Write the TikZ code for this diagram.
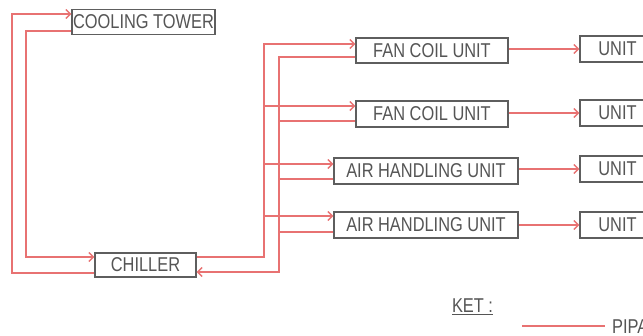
\documentclass[tikz,border=0pt]{standalone}
\usepackage{fontspec}
\setmainfont{Liberation Sans}
\newfontfamily\narrowfont[FakeStretch=0.82]{Liberation Sans}
\usetikzlibrary{arrows.meta,calc}
\definecolor{pipecol}{HTML}{E87272}
\definecolor{boxcol}{HTML}{5E5E5E}
\definecolor{txtcol}{HTML}{555555}
\tikzset{
  unitbox/.style={draw=boxcol, line width=1.4pt, inner sep=0pt, text=txtcol,
    font=\narrowfont\fontsize{20}{20}\selectfont},
  pipe/.style={draw=pipecol, line width=1.3pt},
  pipearrow/.style={pipe, -{Straight Barb[length=4.5pt,width=9pt,line width=1.3pt]}},
  lbl/.style={text=txtcol, inner sep=0pt, font=\narrowfont\fontsize{20}{20}\selectfont}
}
\begin{document}
\begin{tikzpicture}[x=1pt,y=-1pt]
\useasboundingbox (0,0) rectangle (643,335);
\fill[white] (0,0) rectangle (643,335);
% nodes
\node[unitbox, minimum width=143pt, minimum height=25pt] (ct) at (143.5,22) {COOLING TOWER};
\node[unitbox, minimum width=101pt, minimum height=24pt] (ch) at (145.5,265) {CHILLER};
\node[unitbox, minimum width=152pt, minimum height=25pt] (f1) at (432,50.5) {FAN COIL UNIT};
\node[unitbox, minimum width=152pt, minimum height=26pt] (f2) at (432,114) {FAN COIL UNIT};
\node[unitbox, minimum width=184pt, minimum height=26pt] (a1) at (426,171) {AIR HANDLING UNIT};
\node[unitbox, minimum width=184pt, minimum height=26pt] (a2) at (426,225) {AIR HANDLING UNIT};
\node[unitbox, minimum width=75pt, minimum height=26pt] (u1) at (617.5,49) {UNIT};
\node[unitbox, minimum width=75pt, minimum height=26pt] (u2) at (617.5,113) {UNIT};
\node[unitbox, minimum width=75pt, minimum height=26pt] (u3) at (617.5,169) {UNIT};
\node[unitbox, minimum width=75pt, minimum height=26pt] (u4) at (617.5,225) {UNIT};
% helper coordinates
\coordinate (L1) at (12,150);
\coordinate (L2) at (26,150);
\coordinate (S) at (264,257);
\coordinate (R) at (279,272);
% condenser loop
\draw[pipearrow] ($(ch.west)+(0,8)$) -| (L1) |- ($(ct.west)+(0,-8)$);
\draw[pipearrow] ($(ct.west)+(0,9)$) -| (L2) |- ($(ch.west)+(0,-8)$);
% supply
\draw[pipearrow] ($(ch.east)+(0,-8)$) -| (S) |- ($(f1.west)+(0,-6.5)$);
\draw[pipearrow] (S) |- ($(f2.west)+(0,-8)$);
\draw[pipearrow] (S) |- ($(a1.west)+(0,-7)$);
\draw[pipearrow] (S) |- ($(a2.west)+(0,-9)$);
% return
\draw[pipearrow] ($(f1.west)+(0,6.5)$) -| (R) |- ($(ch.east)+(0,7)$);
\draw[pipe] ($(f2.west)+(0,7)$) -| (R);
\draw[pipe] ($(a1.west)+(0,8)$) -| (R);
\draw[pipe] ($(a2.west)+(0,7)$) -| (R);
% to units
\draw[pipearrow] (f1.east |- u1.west) -- (u1.west);
\draw[pipearrow] (f2.east |- u2.west) -- (u2.west);
\draw[pipearrow] (a1.east |- u3.west) -- (u3.west);
\draw[pipearrow] (a2.east |- u4.west) -- (u4.west);
% legend
\node[lbl] (ket) at (472.5,307) {\underline{KET :}};
\coordinate (k1) at (522,326);
\coordinate (k2) at (605,326);
\draw[pipe] (k1) -- (k2);
\node[lbl, anchor=west] (pipa) at (612,327) {PIPA};
\end{tikzpicture}
\end{document}
